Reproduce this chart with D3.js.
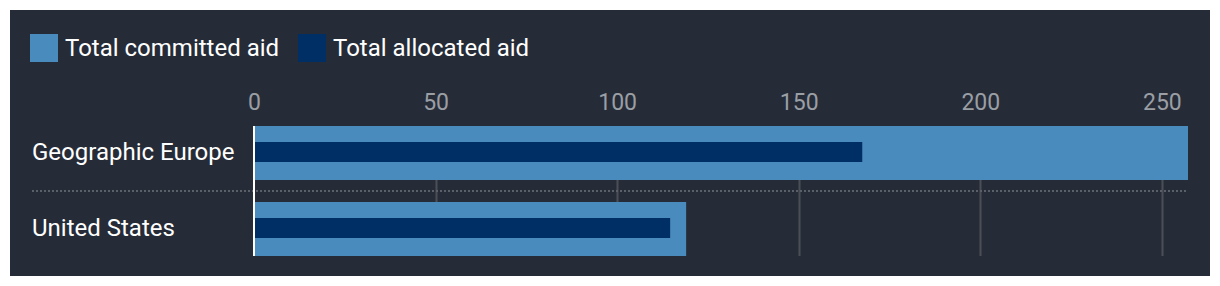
<!DOCTYPE html>
<html>
<head>
<meta charset="utf-8">
<script src="https://cdn.jsdelivr.net/npm/d3@7"></script>
<style>
  html, body { margin: 0; padding: 0; background: #ffffff; }
  svg { display: block; }
  text { font-family: Roboto, "Noto Sans", sans-serif; }
</style>
</head>
<body>
<svg id="chart" width="1220" height="286"></svg>
<script>
const categories = ["Geographic Europe", "United States"];
const committedValues = [257.2, 119.0];
const allocatedValues = [167.5, 114.6];
const seriesNames = ["Total committed aid", "Total allocated aid"];
const tickValues = [0, 50, 100, 150, 200, 250];

const colors = { committed: "#4a8bbd", allocated: "#002f66" };

const svg = d3.select("#chart");
svg.append("rect").attr("x", 10).attr("y", 10).attr("width", 1200).attr("height", 266).attr("fill", "#262c37");

const x = d3.scaleLinear().domain([0, d3.max(committedValues)]).range([254, 1188]);
const y = d3.scaleBand().domain(categories).range([126, 256]).paddingInner(22 / 76).paddingOuter(0);

// gridlines
svg.append("g").selectAll("line").data(tickValues.filter(d => d > 0)).join("line")
  .attr("x1", d => Math.round(x(d)) + 0.5).attr("x2", d => Math.round(x(d)) + 0.5)
  .attr("y1", y(categories[0])).attr("y2", y(categories[categories.length - 1]) + y.bandwidth())
  .attr("stroke", "#4a4f57").attr("stroke-width", 2);

// separators
for (let i = 1; i < categories.length; i++) {
  const yy = (y(categories[i - 1]) + y.bandwidth() + y(categories[i])) / 2;
  svg.append("line").attr("x1", 32).attr("x2", 1188).attr("y1", yy).attr("y2", yy)
    .attr("stroke", "#5a5f68").attr("stroke-width", 2).attr("stroke-dasharray", "2,2");
}

// axis
const axis = d3.axisTop(x).tickValues(tickValues).tickSize(0).tickPadding(0).tickFormat(d3.format("d"));
const ag = svg.append("g").attr("transform", "translate(0,110)").call(axis);
ag.select(".domain").remove();
ag.selectAll("text").attr("fill", "#9a9ea5").attr("font-size", 23).attr("font-family", "Roboto");

// bars
svg.append("g").selectAll("rect").data(categories).join("rect")
  .attr("x", x(0)).attr("y", d => y(d))
  .attr("width", (d, i) => x(committedValues[i]) - x(0))
  .attr("height", y.bandwidth()).attr("fill", colors.committed);
svg.append("g").selectAll("rect").data(categories).join("rect")
  .attr("x", x(0)).attr("y", d => y(d) + 16)
  .attr("width", (d, i) => x(allocatedValues[i]) - x(0))
  .attr("height", 20).attr("fill", colors.allocated);

// zero line
svg.append("line").attr("x1", x(0)).attr("x2", x(0))
  .attr("y1", y(categories[0])).attr("y2", y(categories[categories.length - 1]) + y.bandwidth())
  .attr("stroke", "#ffffff").attr("stroke-width", 2);

// category labels
svg.append("g").selectAll("text").data(categories).join("text")
  .attr("x", 32).attr("y", d => y(d) + y.bandwidth() / 2 - 1)
  .attr("dy", "0.35em").attr("fill", "#ffffff").attr("font-size", 24).text(d => d);

// legend
const legendX = [30, 298];
const lg = svg.append("g").selectAll("g").data(seriesNames).join("g")
  .attr("transform", (d, i) => `translate(${legendX[i]},34)`);
lg.append("rect").attr("width", 28).attr("height", 28).attr("fill", (d, i) => i === 0 ? colors.committed : colors.allocated);
lg.append("text").attr("x", 35).attr("y", 14).attr("dy", "0.35em").attr("fill", "#ffffff").attr("font-size", 24).text(d => d);
</script>
</body>
</html>
